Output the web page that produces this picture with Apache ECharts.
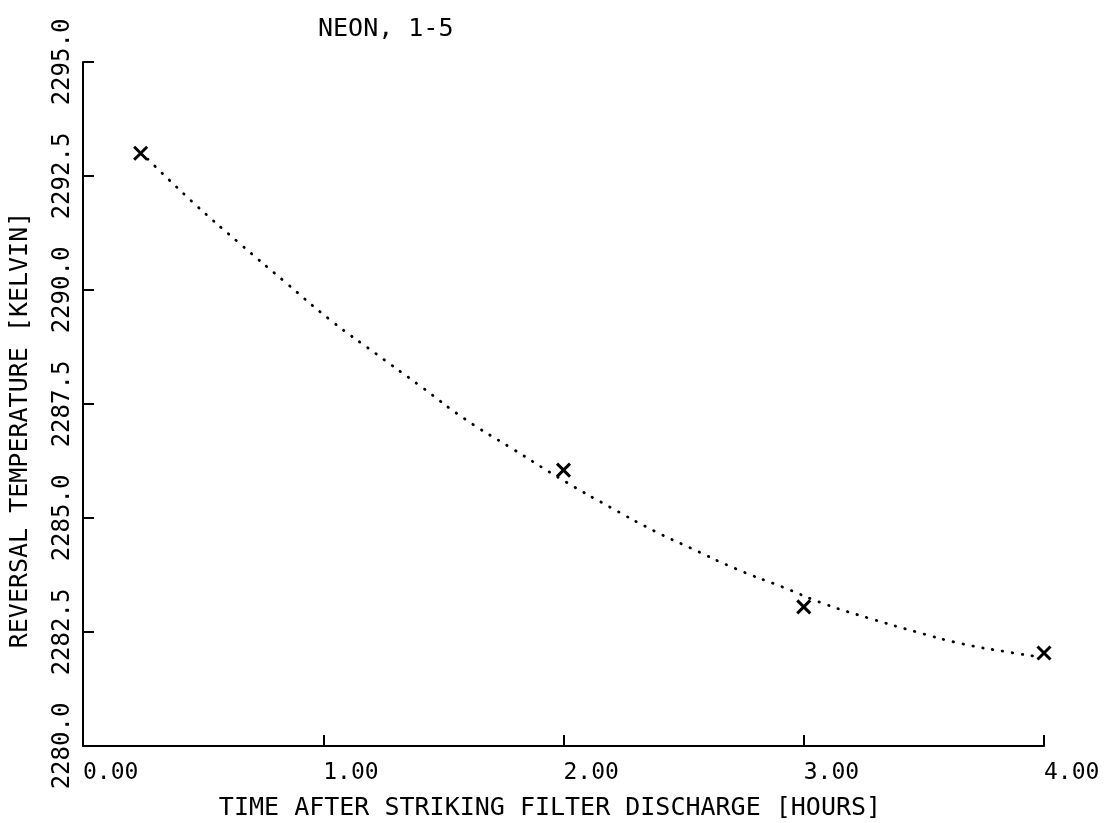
<!DOCTYPE html>
<html><head><meta charset="utf-8">
<script src="https://cdn.jsdelivr.net/npm/echarts@6/dist/echarts.min.js"></script>
<style>html,body{margin:0;padding:0;background:#fff}#c{width:1104px;height:823px}</style>
</head><body><div id="c"></div>
<script>
const titleText = 'NEON, 1-5';
const xName = 'TIME AFTER STRIKING FILTER DISCHARGE [HOURS]';
const yName = 'REVERSAL TEMPERATURE [KELVIN]';
const xTickLabels = ['0.00', '1.00', '2.00', '3.00', '4.00'];
const yTickLabels = ['2280.0', '2282.5', '2285.0', '2287.5', '2290.0', '2292.5', '2295.0'];
// measured points (x marks)
const pointTimes = [0.24, 2.0, 3.0, 4.0];
const pointTemps = [2293.0, 2286.05, 2283.05, 2282.04];
// fitted dotted curve
const curveTimes = [0.27, 0.46, 0.65, 0.84, 1.03, 1.22, 1.41, 1.59, 1.79, 2.01, 2.20, 2.38, 2.53, 2.72, 2.91, 3.09, 3.28, 3.47, 3.66, 3.85, 3.96];
const curveTemps = [2292.87, 2291.91, 2291.03, 2290.18, 2289.34, 2288.60, 2287.87, 2287.17, 2286.51, 2285.79, 2285.22, 2284.71, 2284.34, 2283.88, 2283.49, 2283.11, 2282.79, 2282.50, 2282.24, 2282.06, 2281.97];

const FONT = 'DejaVu Sans Mono';
const chart = echarts.init(document.getElementById('c'));
chart.setOption({
  backgroundColor: '#fff',
  animation: false,
  title: {
    text: titleText, left: 313, top: 12,
    textStyle: {fontFamily: FONT, fontSize: 25, fontWeight: 'normal', color: '#000'}
  },
  grid: {left: 83, top: 62, right: 60, bottom: 77, containLabel: false},
  xAxis: {
    type: 'value', min: 0, max: 4, interval: 1,
    axisLine: {show: true, lineStyle: {color: '#000', width: 2}},
    axisTick: {show: true, inside: true, length: 11, lineStyle: {color: '#000', width: 2}},
    splitLine: {show: false},
    axisLabel: {
      align: 'left', margin: 16, color: '#000', fontFamily: FONT, fontSize: 23,
      formatter: v => xTickLabels[Math.round(v)]
    }
  },
  yAxis: {
    type: 'value', min: 2280, max: 2295, interval: 2.5,
    axisLine: {show: true, lineStyle: {color: '#000', width: 2}},
    axisTick: {show: true, inside: true, length: 11, lineStyle: {color: '#000', width: 2}},
    splitLine: {show: false},
    axisLabel: {
      rotate: 90, margin: 8, color: '#000', fontFamily: FONT, fontSize: 24,
      formatter: v => yTickLabels[Math.round((v - 2280) / 2.5)]
    }
  },
  graphic: [
    {type: 'text', x: 550, y: 808, style: {text: xName, fontFamily: FONT, fontSize: 25, fill: '#000', textAlign: 'center', textVerticalAlign: 'middle'}},
    {type: 'text', x: 20, y: 430, rotation: Math.PI / 2, style: {text: yName, fontFamily: FONT, fontSize: 25, fill: '#000', textAlign: 'center', textVerticalAlign: 'middle'}}
  ],
  series: [
    {
      type: 'line', smooth: true, showSymbol: false, silent: true,
      data: curveTimes.map((t, i) => [t, curveTemps[i]]),
      lineStyle: {color: '#000', width: 2.8, type: [0.5, 9.5], cap: 'round'},
      z: 2
    },
    {
      type: 'scatter',
      data: pointTimes.map((t, i) => [t, pointTemps[i]]),
      symbol: 'path://M0 0L10 10M10 0L0 10',
      symbolSize: 13,
      itemStyle: {color: 'none', borderColor: '#000', borderWidth: 3, opacity: 1},
      z: 3
    }
  ]
});
</script></body></html>
